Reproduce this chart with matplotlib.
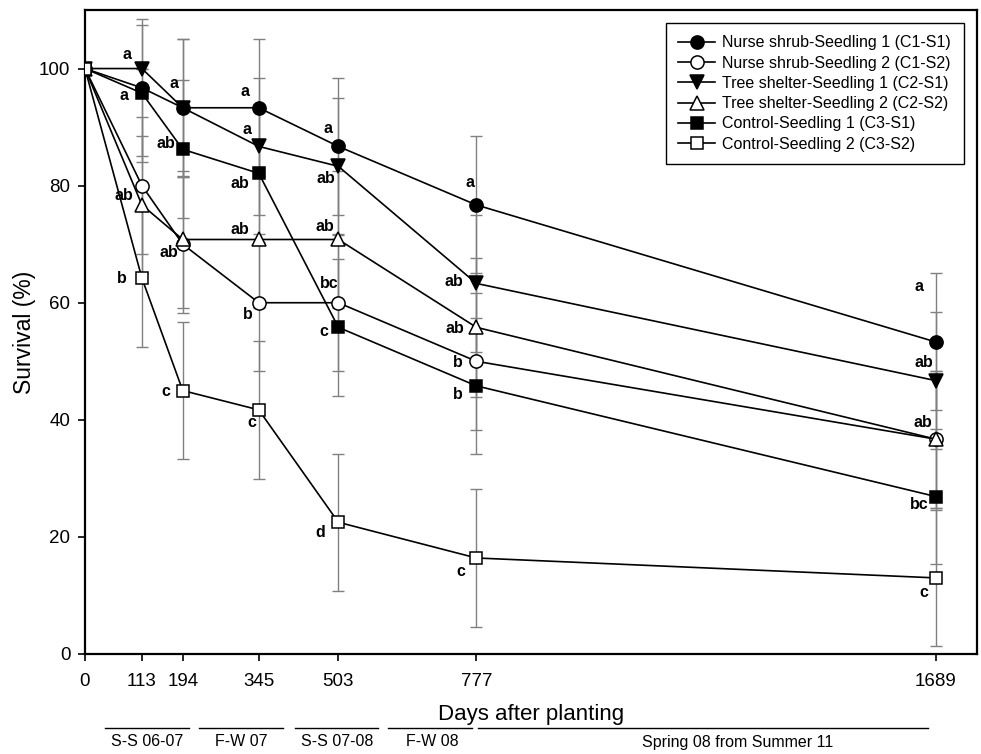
#!/usr/bin/env python3

import numpy as np
import matplotlib
matplotlib.use('Agg')
from matplotlib import rcParams, pyplot as pp
import matplotlib.transforms as mtransforms

################################################################################
rcParams['font.family'] = ['Liberation Sans', 'DejaVu Sans']
rcParams['figure.figsize'] = [9.81, 7.54]
rcParams['figure.dpi'] = 100

################################################################################
# Survival data (%)
days = [0, 113, 194, 345, 503, 777, 1689]

c1s1 = [100, 96.7, 93.3, 93.3, 86.7, 76.7, 53.3]
c1s2 = [100, 80.0, 70.0, 60.0, 60.0, 50.0, 36.7]
c2s1 = [100, 100, 93.3, 86.7, 83.3, 63.3, 46.7]
c2s2 = [100, 76.7, 70.8, 70.8, 70.8, 55.8, 36.7]
c3s1 = [100, 95.8, 86.2, 82.1, 55.8, 45.8, 26.9]
c3s2 = [100, 64.2, 45.0, 41.7, 22.5, 16.4, 13.0]

# standard errors
se_c1s1 = [0, 11.7, 11.8, 11.7, 11.7, 11.7, 11.7]
se_c1s2 = [0, 11.7, 11.7, 11.7, 11.7, 11.7, 11.7]
se_c2s1 = [0, 0, 11.8, 11.7, 11.7, 11.7, 11.7]
se_c2s2 = [0, 11.7, 11.7, 11.7, 11.7, 11.9, 11.7]
se_c3s1 = [0, 11.7, 11.8, 11.7, 11.7, 11.6, 11.6]
se_c3s2 = [0, 11.7, 11.7, 11.8, 11.7, 11.8, 11.6]

labels = ['Nurse shrub-Seedling 1 (C1-S1)', 'Nurse shrub-Seedling 2 (C1-S2)',
	'Tree shelter-Seedling 1 (C2-S1)', 'Tree shelter-Seedling 2 (C2-S2)',
	'Control-Seedling 1 (C3-S1)', 'Control-Seedling 2 (C3-S2)']

# significance letters: (series, day index, letter)
letters = [
	(2, 1, 'a'), (4, 1, 'a'), (3, 1, 'ab'), (5, 1, 'b'),
	(0, 2, 'a'), (4, 2, 'ab'), (1, 2, 'ab'), (5, 2, 'c'),
	(0, 3, 'a'), (2, 3, 'a'), (4, 3, 'ab'), (3, 3, 'ab'), (1, 3, 'b'), (5, 3, 'c'),
	(0, 4, 'a'), (2, 4, 'ab'), (3, 4, 'ab'), (1, 4, 'bc'), (4, 4, 'c'), (5, 4, 'd'),
	(0, 5, 'a'), (2, 5, 'ab'), (3, 5, 'ab'), (1, 5, 'b'), (4, 5, 'b'), (5, 5, 'c'),
	(0, 6, 'a'), (2, 6, 'ab'), (3, 6, 'ab'), (4, 6, 'bc'), (5, 6, 'c'),
]
# letter offsets from the marker, in pixels (x right, y down)
letter_offsets = [
	(-15, -14), (-18, 2), (-18, -9), (-20, 0),
	(-9, -24), (-17, -6), (-14, 8), (-17, 1),
	(-14, -16), (-12, -17), (-19, 10), (-19, -10), (-11, 12), (-7, 13),
	(-10, -18), (-12, 12), (-13, -13), (-9, -19), (-15, 4), (-18, 10),
	(-6, -22), (-22, -2), (-21, 1), (-19, 1), (-19, 9), (-16, 14),
	(-17, -55), (-12, -18), (-13, -17), (-16, 8), (-12, 15),
]

seasons = ['S-S 06-07', 'F-W 07', 'S-S 07-08', 'F-W 08', 'Spring 08 from Summer 11']
season_start = [40, 226, 417, 602, 780]
season_end = [207, 393, 582, 768, 1674]
season_text_x = [123, 310, 500, 690, 1295]

################################################################################
series = [c1s1, c1s2, c2s1, c2s2, c3s1, c3s2]
errs = [se_c1s1, se_c1s2, se_c2s1, se_c2s2, se_c3s1, se_c3s2]
markers = ['o', 'o', 'v', '^', 's', 's']
faces = ['k', 'w', 'k', 'w', 'k', 'w']
msizes = [9.5, 9.5, 10, 10, 8.5, 8.5]

fig = pp.figure()
ax = fig.add_axes([85/981, 1 - 654/754, 892/981, 644/754])

# error bars first, grey, behind the lines
for y, e in zip(series, errs):
	ax.errorbar(days, y, yerr=e, fmt='none', ecolor='#808080',
		elinewidth=1.0, capsize=4, capthick=1.0, zorder=1)

for y, m, fc, ms, lab in zip(series, markers, faces, msizes, labels):
	ax.plot(days, y, color='k', lw=1.2, marker=m, markersize=ms,
		markerfacecolor=fc, markeredgecolor='k', markeredgewidth=1.1,
		label=lab, zorder=3)

for (si, di, txt), (dx, dy) in zip(letters, letter_offsets):
	ax.annotate(txt, (days[di], series[si][di]), xytext=(dx, -dy),
		textcoords='offset pixels', ha='center', va='center',
		fontsize=11.5, fontweight='bold', zorder=4)

ax.set_xlim(0, 1771)
ax.set_ylim(0, 110)
ax.set_xticks(days)
ax.set_yticks([0, 20, 40, 60, 80, 100])
ax.tick_params(direction='out', length=5, width=1.2, labelsize=13.5,
	top=False, right=False)
ax.tick_params(axis='x', pad=9)
ax.tick_params(axis='y', pad=5.5)
for sp in ax.spines.values():
	sp.set_linewidth(1.6)

ax.set_xlabel('Days after planting', fontsize=16, labelpad=10)
ax.set_ylabel('Survival (%)', fontsize=16.5, labelpad=2)

leg = ax.legend(loc='upper right', bbox_to_anchor=(0.985, 0.98),
	borderaxespad=0, fancybox=False, edgecolor='k', framealpha=1,
	fontsize=11.5, handlelength=2.3, labelspacing=0.33, borderpad=0.78,
	handletextpad=0.45)
leg.get_frame().set_linewidth(1.0)

################################################################################
# season bars below the axis
trans = mtransforms.blended_transform_factory(ax.transData, fig.transFigure)
for s0, s1 in zip(season_start, season_end):
	ax.plot([s0, s1], [1 - 728/754]*2, color='k', lw=1.0, transform=trans,
		clip_on=False)
for name, xt in zip(seasons, season_text_x):
	ax.text(xt, 1 - 742/754, name, transform=trans, ha='center', va='center',
		fontsize=11.5)

fig.savefig('out.png', dpi=100)
